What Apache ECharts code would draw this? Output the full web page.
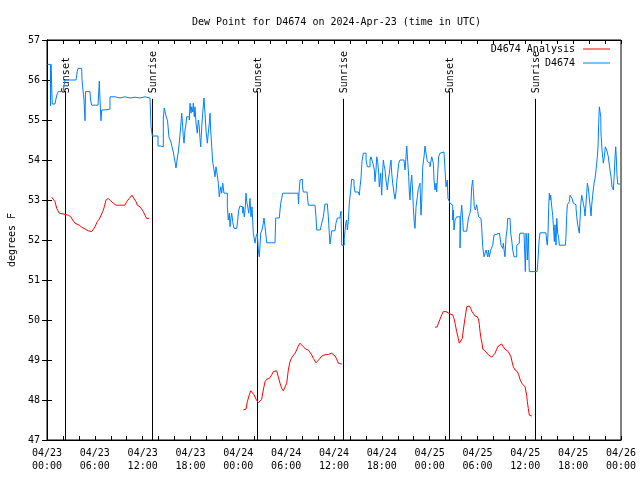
<!DOCTYPE html>
<html>
<head>
<meta charset="utf-8">
<script src="https://cdn.jsdelivr.net/npm/echarts@6/dist/echarts.min.js"></script>
<style>html,body{margin:0;padding:0;background:#fff;}#c{width:640px;height:480px;}</style>
</head>
<body>
<div id="c"></div>
<script>
// Hours since 2024-04-23 00:00 UTC
const dayLabels = ['04/23', '04/24', '04/25', '04/26'];
const yTicks = [47, 57, 1]; // min, max, step

const dewHours = [0.06,0.44,0.50,0.66,1.00,1.22,1.42,2.01,2.26,3.64,3.80,3.89,4.35,4.39,4.64,4.77,4.83,5.39,5.46,5.61,6.40,6.56,6.65,6.77,6.86,7.15,7.90,8.53,9.16,9.78,10.41,11.04,11.67,12.29,12.92,13.05,13.21,13.92,14.26,14.59,14.71,14.93,15.12,15.30,15.55,15.68,15.84,15.97,16.09,16.18,16.35,16.47,16.60,16.77,16.90,17.02,17.10,17.19,17.31,17.44,17.52,17.72,17.85,17.94,18.06,18.15,18.28,18.35,18.48,18.57,18.69,18.85,18.98,19.10,19.19,19.28,19.41,19.53,19.69,19.82,19.94,20.11,20.23,20.36,20.45,20.53,20.66,20.79,20.95,21.07,21.20,21.36,21.49,21.61,21.79,21.91,22.04,22.20,22.33,22.45,22.62,22.74,22.87,22.96,23.04,23.17,23.29,23.46,23.80,23.92,24.05,24.21,24.42,24.55,24.62,24.75,24.88,24.96,25.05,25.18,25.30,25.38,25.46,25.59,25.72,25.88,26.00,26.09,26.22,26.38,26.51,26.63,26.81,26.97,27.13,27.22,27.35,27.47,27.56,28.60,28.69,29.14,29.23,29.32,29.44,29.57,31.49,31.55,31.61,31.74,31.86,32.03,32.15,32.61,32.65,32.78,33.62,33.74,33.83,34.28,34.46,34.66,34.87,35.16,35.29,35.41,35.50,35.62,35.71,36.13,36.25,36.42,36.75,36.88,36.97,37.17,37.29,37.47,37.59,37.67,37.80,37.92,38.10,38.22,38.38,38.51,38.64,39.05,39.18,39.26,39.39,39.51,39.68,39.89,40.02,40.18,40.43,40.52,40.64,40.86,40.93,41.06,41.14,41.27,41.36,41.48,41.61,41.68,41.86,41.98,42.11,42.19,42.27,42.40,42.52,42.69,42.81,42.94,43.03,43.15,43.24,43.36,43.53,43.65,43.78,43.87,43.99,44.12,44.28,44.78,44.91,45.03,45.12,45.25,45.37,45.45,45.53,45.62,45.75,45.87,45.95,46.04,46.16,46.29,46.45,46.58,46.70,46.79,46.91,47.00,47.13,47.29,47.42,47.54,47.71,47.83,48.04,48.26,48.46,48.55,48.67,48.80,48.88,49.01,49.13,49.30,49.55,49.80,49.93,50.05,50.21,50.30,50.43,50.55,50.68,50.89,50.97,51.05,51.18,51.39,51.59,51.81,51.89,52.02,52.15,52.22,52.65,52.77,52.90,53.06,53.15,53.27,53.40,53.48,53.60,53.73,53.90,54.03,54.15,54.32,54.44,54.53,54.66,54.82,54.94,55.07,55.16,55.28,55.36,55.48,55.66,55.91,56.07,56.20,56.74,56.82,56.95,57.16,57.24,57.33,57.45,57.58,57.70,57.79,58.08,58.17,58.29,58.42,58.58,58.74,58.92,59.12,59.25,59.33,59.84,59.96,60.00,60.09,60.17,60.25,60.37,60.50,61.47,61.59,61.72,61.84,62.59,62.68,62.76,62.85,62.93,63.01,63.10,63.18,63.31,63.43,63.51,63.64,63.72,63.85,63.94,64.06,64.19,64.26,65.02,65.10,65.19,65.27,65.52,65.61,65.73,65.86,66.02,66.15,66.36,66.45,66.57,66.70,66.77,66.86,66.95,67.07,67.20,67.27,67.40,67.49,67.61,67.70,67.78,67.90,67.99,68.11,68.24,68.33,68.45,68.62,68.74,68.87,69.03,69.12,69.20,69.28,69.37,69.46,69.49,69.62,69.78,69.91,70.03,70.21,70.41,70.62,70.75,70.87,71.04,71.16,71.25,71.34,71.42,71.50,71.59,71.88];
const dewValues = [56.39,55.35,56.39,55.40,55.40,55.62,55.71,55.75,56.00,56.00,56.21,56.29,56.29,56.00,55.50,54.98,55.71,55.71,55.50,55.37,55.37,55.97,55.50,54.98,55.25,55.27,55.58,55.55,55.58,55.55,55.57,55.55,55.58,55.55,55.57,54.83,54.60,54.35,54.33,55.05,55.30,55.10,54.98,54.57,54.45,54.33,54.20,54.05,53.92,53.80,54.05,54.20,54.45,54.83,55.17,54.83,54.58,54.42,54.75,54.90,55.08,55.08,55.00,55.42,55.17,55.33,55.20,55.42,55.08,55.33,54.92,54.67,55.00,54.83,54.54,54.33,54.83,55.17,55.55,55.17,54.75,54.42,54.67,54.92,55.17,54.75,54.33,53.95,53.75,53.58,53.83,53.62,53.42,53.08,53.33,53.17,53.42,53.17,53.12,53.17,52.83,52.50,52.67,52.33,52.50,52.67,52.46,52.29,52.29,52.50,52.75,52.85,52.83,52.67,52.83,52.58,52.83,53.17,52.96,52.83,52.67,52.83,53.04,52.58,52.83,52.17,52.12,51.92,52.08,52.17,51.75,51.58,52.17,52.25,52.42,52.55,52.33,52.10,51.93,51.90,52.55,52.55,52.75,52.92,53.04,53.17,53.17,52.90,53.17,53.50,53.52,53.37,53.20,53.20,53.22,52.87,52.87,52.58,52.25,52.25,52.42,52.58,52.90,52.88,52.58,52.17,51.90,52.08,52.23,52.23,52.42,52.55,52.55,52.72,51.87,51.87,52.04,52.42,52.50,52.25,52.46,52.92,53.25,53.52,53.50,53.37,53.20,53.20,53.12,53.32,53.55,53.96,54.17,54.17,54.00,53.83,53.83,54.00,54.08,54.08,53.88,53.75,53.46,53.75,54.08,53.96,53.67,53.33,53.67,53.12,53.75,54.00,53.88,53.75,53.50,53.25,53.50,53.67,53.83,54.00,53.67,53.42,53.17,53.02,53.20,53.46,53.67,53.92,54.00,54.00,53.75,54.08,54.35,53.96,53.58,53.20,53.00,53.38,53.62,53.20,52.83,52.50,52.29,52.83,53.08,53.29,53.25,53.42,52.62,52.92,53.83,54.08,54.35,54.17,53.96,53.92,53.83,54.08,53.92,53.50,53.25,53.42,53.20,53.67,54.08,54.17,54.20,54.22,53.75,53.33,53.50,53.04,53.04,52.92,52.87,52.50,52.75,52.25,52.50,52.58,52.58,51.80,52.58,52.87,52.50,52.22,52.22,52.42,52.58,52.67,52.79,53.33,53.50,53.25,52.83,52.75,52.88,52.71,52.58,52.54,52.54,52.29,51.83,51.58,51.58,51.75,51.79,51.58,51.75,51.58,51.75,51.87,52.12,52.17,52.17,52.08,51.87,51.79,51.92,51.75,51.58,52.08,52.25,52.54,52.54,52.17,52.00,51.75,51.58,51.58,51.87,51.92,52.08,52.17,52.18,51.46,51.21,52.17,52.00,51.50,52.17,51.21,51.20,51.50,51.96,52.18,52.18,51.96,51.87,52.18,52.83,53.17,53.00,53.12,52.83,52.62,52.38,51.96,52.38,51.87,52.54,52.17,52.04,51.87,51.87,52.10,52.62,52.88,52.96,53.12,53.17,53.04,52.92,52.88,52.79,52.58,52.38,52.33,52.17,52.50,52.88,53.12,53.12,52.92,52.79,52.60,52.92,53.17,53.42,53.29,53.12,52.88,52.60,52.88,53.12,53.42,53.54,53.75,54.08,54.33,54.92,55.33,55.21,55.08,54.67,54.25,53.92,54.08,54.33,54.25,54.08,53.75,53.58,53.33,53.25,53.67,54.08,54.33,54.00,53.62,53.40,53.40];

const anaHours = [0.59,0.79,1.00,1.22,1.54,2.05,2.26,2.67,2.97,3.22,3.51,4.05,4.35,4.55,5.18,5.61,5.81,6.02,6.31,6.56,6.77,6.99,7.19,7.40,7.69,7.99,8.32,8.66,9.78,10.00,10.32,10.66,10.91,11.16,11.33,11.67,11.88,12.08,12.29,12.50,12.83,
  18.00,
  24.62,24.96,25.13,25.38,25.55,25.80,25.97,26.22,26.51,26.72,26.93,27.13,27.35,27.56,27.89,28.19,28.39,28.60,28.81,29.01,29.23,29.44,29.64,29.86,30.07,30.27,30.48,30.70,30.90,31.11,31.32,31.52,31.74,31.95,32.15,32.49,32.78,32.99,33.20,33.41,33.74,33.91,34.16,34.46,34.87,35.29,35.71,35.92,36.13,36.34,36.54,36.97,
  42.00,
  48.67,48.96,49.09,49.30,49.51,49.71,50.05,50.21,50.55,50.89,51.05,51.18,51.39,51.59,51.72,51.97,52.10,52.22,52.43,52.65,52.98,53.15,53.31,53.48,53.69,53.98,54.15,54.23,54.32,54.44,54.57,54.66,54.94,55.16,55.36,55.57,55.78,55.98,56.20,56.41,56.61,56.82,57.04,57.24,57.45,57.66,57.86,58.08,58.20,58.33,58.49,58.71,59.00,59.17,59.33,59.55,59.75,59.96,60.17,60.25,60.37,60.50,60.80];
const anaValues = [53.07,53.07,52.96,52.79,52.67,52.65,52.64,52.62,52.58,52.50,52.42,52.37,52.32,52.27,52.23,52.21,52.23,52.33,52.46,52.52,52.54,52.71,52.83,53.00,53.04,52.98,52.92,52.87,52.87,52.96,53.04,53.12,53.08,52.96,52.87,52.83,52.77,52.71,52.62,52.54,52.54,
  null,
  47.75,47.77,47.96,48.13,48.23,48.23,48.13,48.02,47.93,47.92,48.02,48.25,48.46,48.52,48.54,48.63,48.71,48.75,48.73,48.58,48.42,48.29,48.23,48.25,48.42,48.75,48.96,49.06,49.08,49.17,49.25,49.35,49.42,49.40,49.33,49.27,49.25,49.21,49.13,49.04,48.93,48.96,49.02,49.10,49.13,49.14,49.17,49.17,49.10,49.02,48.92,48.90,
  null,
  49.82,49.83,49.92,50.02,50.13,50.21,50.21,50.17,50.15,50.13,50.04,49.92,49.71,49.54,49.42,49.42,49.54,49.75,50.04,50.33,50.35,50.29,50.21,50.17,50.10,50.08,50.00,49.88,49.71,49.54,49.42,49.27,49.23,49.18,49.13,49.08,49.07,49.08,49.17,49.27,49.35,49.40,49.40,49.33,49.27,49.23,49.21,49.17,49.08,48.96,48.83,48.75,48.71,48.63,48.52,48.42,48.37,48.33,48.12,47.96,47.79,47.62,47.60];

const eventHours = [2.26, 13.21, 26.38, 37.17, 50.47, 61.25];
const eventNames = ['Sunset', 'Sunrise', 'Sunset', 'Sunrise', 'Sunset', 'Sunrise'];
const eventTops  = [55.72, 55.53, 55.72, 55.53, 55.72, 55.53];

const FONT = '"DejaVu Sans Mono", "Liberation Mono", monospace';
const LABEL_BASE = 55.67;

const chart = echarts.init(document.getElementById('c'), null, {renderer: 'canvas'});

const axisCommon = {
  axisLine: {show: true, lineStyle: {color: '#000', width: 1}},
  splitLine: {show: false},
};

chart.setOption({
  animation: false,
  backgroundColor: '#fff',
  title: {
    text: 'Dew Point for D4674 on 2024-Apr-23 (time in UTC)',
    left: 187, top: 12,
    textStyle: {fontFamily: FONT, fontSize: 10, fontWeight: 'normal', color: '#000'}
  },
  legend: [
    {data: ['D4674 Analysis'], right: 30, top: 44, orient: 'vertical', align: 'right',
     icon: 'rect', itemWidth: 27, itemHeight: 1, selectedMode: false, padding: 0,
     textStyle: {fontFamily: FONT, fontSize: 10, color: '#000', padding: [0, 3, 0, 0]}},
    {data: ['D4674'], right: 30, top: 58, orient: 'vertical', align: 'right',
     icon: 'rect', itemWidth: 27, itemHeight: 1, selectedMode: false, padding: 0,
     textStyle: {fontFamily: FONT, fontSize: 10, color: '#000', padding: [0, 3, 0, 0]}}
  ],
  grid: {left: 47, top: 40, width: 574, height: 400, show: true, borderColor: '#000', borderWidth: 1,
         backgroundColor: 'transparent', containLabel: false, outerBoundsMode: 'none'},
  xAxis: [
    Object.assign({}, axisCommon, {
      type: 'value', min: 0, max: 72, interval: 2, position: 'bottom',
      axisTick: {show: true, inside: true, length: 4, lineStyle: {color: '#000'}},
      axisLabel: {
        color: '#000', fontFamily: FONT, fontSize: 10, lineHeight: 13, margin: 7,
        showMinLabel: true, showMaxLabel: true, hideOverlap: false,
        formatter: function (v) {
          if (v % 6 !== 0) return '';
          const d = Math.floor(v / 24);
          const hh = v % 24;
          return dayLabels[d] + '\n' + (hh < 10 ? '0' : '') + hh + ':00';
        }
      }
    }),
    Object.assign({}, axisCommon, {
      type: 'value', min: 0, max: 72, interval: 2, position: 'top',
      axisTick: {show: true, inside: true, length: 4, lineStyle: {color: '#000'}},
      axisLabel: {show: false}
    })
  ],
  yAxis: [
    Object.assign({}, axisCommon, {
      type: 'value', min: yTicks[0], max: yTicks[1], interval: yTicks[2], position: 'left',
      name: 'degrees F', nameLocation: 'middle', nameGap: 30, nameRotate: 90,
      nameTextStyle: {fontFamily: FONT, fontSize: 10, color: '#000'},
      axisTick: {show: true, inside: true, length: 5, lineStyle: {color: '#000'}},
      axisLabel: {color: '#000', fontFamily: FONT, fontSize: 10, margin: 7}
    }),
    Object.assign({}, axisCommon, {
      type: 'value', min: yTicks[0], max: yTicks[1], interval: yTicks[2], position: 'right',
      axisTick: {show: true, inside: true, length: 5, lineStyle: {color: '#000'}},
      axisLabel: {show: false}
    })
  ],
  series: [
    {
      name: 'D4674 Analysis', type: 'line', xAxisIndex: 0, yAxisIndex: 0,
      showSymbol: false, symbol: 'none', connectNulls: false,
      lineStyle: {color: '#ff0000', width: 1}, itemStyle: {color: '#ff0000'},
      data: anaHours.map((h, i) => [h, anaValues[i] === null ? '-' : anaValues[i]])
    },
    {
      name: 'D4674', type: 'line', xAxisIndex: 0, yAxisIndex: 0, step: 'end',
      showSymbol: false, symbol: 'none',
      lineStyle: {color: '#0080ff', width: 1}, itemStyle: {color: '#0080ff'},
      data: dewHours.map((h, i) => [h, dewValues[i]])
    },
    {
      name: 'events', type: 'custom', xAxisIndex: 0, yAxisIndex: 0, silent: true,
      data: eventHours.map((h, i) => [h, eventTops[i]]),
      encode: {x: 0, y: 1},
      renderItem: function (params, api) {
        const t = api.value(0);
        const p0 = api.coord([t, yTicks[0]]);
        const p1 = api.coord([t, api.value(1)]);
        const pl = api.coord([t, LABEL_BASE]);
        const x = Math.round(p0[0]) + 0.5;
        return {
          type: 'group',
          children: [
            {type: 'line', shape: {x1: x, y1: p0[1], x2: x, y2: p1[1]},
             style: {stroke: '#000', lineWidth: 1}},
            {type: 'text', x: x + 0.5, y: pl[1], rotation: Math.PI / 2,
             style: {text: eventNames[params.dataIndex], font: '10px ' + FONT, fill: '#000',
                     align: 'left', verticalAlign: 'middle'}}
          ]
        };
      }
    }
  ]
});
</script>
</body>
</html>
